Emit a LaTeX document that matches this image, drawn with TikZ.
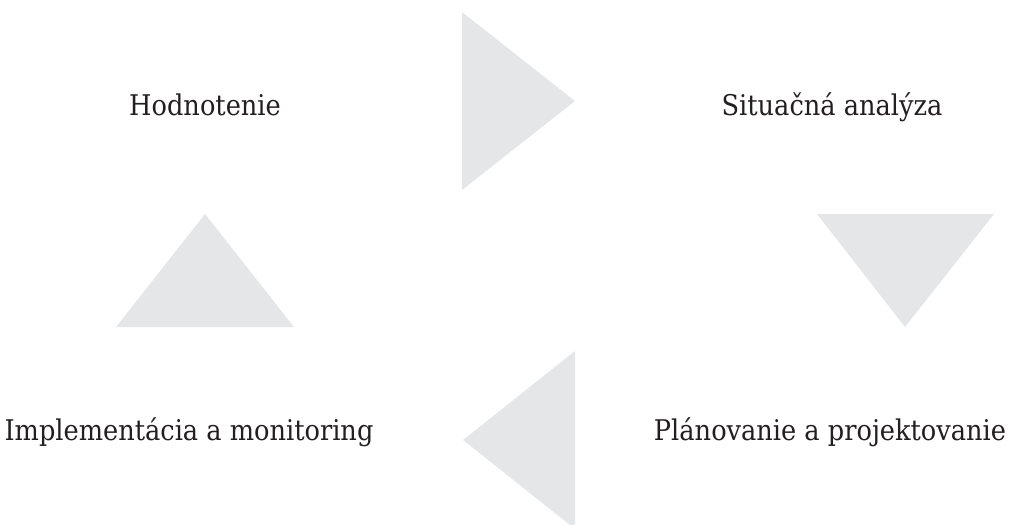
\documentclass[tikz,border=0pt]{standalone}
\usepackage{fontspec}
\setmainfont{DejaVu Serif Condensed}
\usetikzlibrary{positioning}
\definecolor{cyclegray}{RGB}{229,230,232}
\definecolor{inktext}{RGB}{35,31,32}
\begin{document}
\begin{tikzpicture}[
    x=1pt, y=-1pt,
    phase/.style={anchor=base, inner sep=0pt, text=inktext, font=\fontsize{28.5}{34}\selectfont},
    wedge/.style={fill=cyclegray}
]
\useasboundingbox (0,0) rectangle (1018,525);
% phases of the cycle
\node[phase] (eval) at (205,115) {Hodnotenie};
\node[phase] (sit) at (832,115) {Situačná analýza};
\node[phase] (plan) at (830,440) {Plánovanie a projektovanie};
\node[phase] (impl) at (189,440) {Implementácia a monitoring};

% arrows between phases
\fill[wedge] (462,12) -- (575,101) -- (462,190) -- cycle;
\fill[wedge] (817,214) -- (994,214) -- (905,327) -- cycle;
\fill[wedge] (575,351) -- (463,440) -- (575,529) -- cycle;
\fill[wedge] (116,327) -- (205,214) -- (294,327) -- cycle;
\end{tikzpicture}
\end{document}
